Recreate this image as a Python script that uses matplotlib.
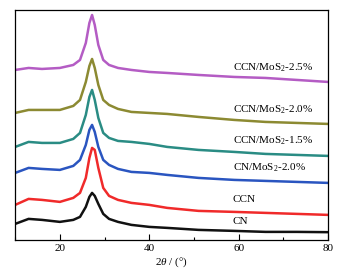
import matplotlib
matplotlib.use("Agg")
import matplotlib.pyplot as plt
from matplotlib.ticker import MultipleLocator

plt.rcParams['font.family'] = ['Liberation Serif', 'DejaVu Serif']
plt.rcParams['mathtext.fontset'] = 'custom'
plt.rcParams['mathtext.rm'] = 'Liberation Serif'
plt.rcParams['mathtext.it'] = 'Liberation Serif:italic'

# 2theta grid (deg) (offset stacked intensity)
two_theta = [10, 13, 16, 20, 23, 24.5, 25.8, 26.6, 27.2, 27.8, 28.6, 29.7, 31, 33, 36, 40, 44, 51, 59, 66, 73, 80]

cn = [16, 21, 20, 18, 20, 23, 33, 43, 47, 44, 36, 26, 21, 18, 15, 13, 12, 10, 9, 8, 8, 7.7]
ccn = [35, 41, 40, 38, 42, 47, 62, 82, 92, 90, 72, 52, 44, 40, 37, 35, 32, 29, 28, 27, 26, 25]
cn_mos2_20 = [67, 72, 71, 70, 74, 80, 95, 110, 115, 108, 93, 80, 75, 71, 68, 67, 65, 62, 60, 59, 58, 57]
ccn_mos2_15 = [93, 98, 97, 97, 101, 107, 125, 143, 150, 140, 122, 107, 102, 99, 98, 96, 93, 90, 88, 86, 85, 84]
ccn_mos2_20 = [127, 130, 130, 130, 134, 140, 158, 174, 181, 172, 155, 140, 135, 131, 128, 127, 126, 123, 120, 118, 117, 116]
ccn_mos2_25 = [170, 172, 171, 172, 175, 180, 197, 217, 225, 215, 195, 180, 175, 172, 170, 168, 167, 165, 163, 162, 160, 158]

series = [cn, ccn, cn_mos2_20, ccn_mos2_15, ccn_mos2_20, ccn_mos2_25]
labels = ['CN', 'CCN', 'CN/MoS$_2$-2.0%', 'CCN/MoS$_2$-1.5%', 'CCN/MoS$_2$-2.0%', 'CCN/MoS$_2$-2.5%']
label_y = [18, 40, 72, 99, 130, 172]
colors = ['#111111', '#f02a2a', '#2a55c0', '#2a8c84', '#8c8a32', '#b45cc4']

fig = plt.figure(figsize=(3.45, 2.77), dpi=100)
ax = fig.add_axes([0.044, 0.134, 0.907, 0.830])

for y, c in zip(series, colors):
    ax.plot(two_theta, y, color=c, lw=1.8)

for lab, ly in zip(labels, label_y):
    ax.text(58.7, ly, lab, fontsize=8, va='center', ha='left')

ax.set_xlim(10, 80)
ax.set_ylim(0, 230)
ax.set_xticks([20, 40, 60, 80])
ax.xaxis.set_minor_locator(MultipleLocator(10))
ax.tick_params(axis='x', which='major', direction='in', length=4, width=0.8, labelsize=8, pad=3)
ax.tick_params(axis='x', which='minor', direction='in', length=2.5, width=0.8)
ax.set_yticks([])
for s in ax.spines.values():
    s.set_linewidth(0.9)
ax.set_xlabel(r'2$\it{\theta}$ / (°)', fontsize=8, labelpad=2)

fig.savefig('out.png', dpi=100)
